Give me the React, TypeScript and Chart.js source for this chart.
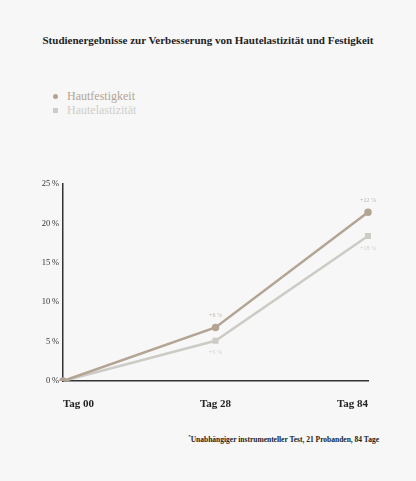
import React, { useEffect, useRef } from 'react';
import { Chart, registerables } from 'chart.js';

Chart.register(...registerables);

// chart values
const days = ['Tag 00', 'Tag 28', 'Tag 84'];
const festigkeit = [0, 6.8, 21.4];
const elastizitaet = [0, 5.1, 18.4];
const festigkeitLabels = ['', '+6 %', '+22 %'];
const elastizitaetLabels = ['', '+5 %', '+18 %'];
const yTicks = [0, 5, 10, 15, 20, 25];

const FEST_COLOR = '#b3a494';
const ELAST_COLOR = '#cdcbc5';
const SERIF = '"Liberation Serif", "DejaVu Serif", serif';

// small value labels above / below the points
const pointLabels = {
  id: 'pointLabels',
  afterDatasetsDraw(chart: Chart) {
    const ctx = chart.ctx;
    ctx.save();
    ctx.font = `6px ${SERIF}`;
    ctx.textAlign = 'center';
    ctx.textBaseline = 'middle';
    chart.data.datasets.forEach((ds, i) => {
      const labels = i === 0 ? festigkeitLabels : elastizitaetLabels;
      const meta = chart.getDatasetMeta(i);
      meta.data.forEach((pt, j) => {
        if (!labels[j]) return;
        ctx.fillStyle = i === 0 ? '#c2b6a9' : '#d2d0cb';
        ctx.fillText(labels[j], pt.x, i === 0 ? pt.y - 12 : pt.y + 12);
      });
    });
    ctx.restore();
  },
};

const App: React.FC = () => {
  const canvasRef = useRef<HTMLCanvasElement>(null);
  const chartRef = useRef<Chart | null>(null);

  useEffect(() => {
    if (!canvasRef.current) return;
    if (chartRef.current) chartRef.current.destroy();

    chartRef.current = new Chart(canvasRef.current, {
      type: 'line',
      data: {
        labels: days,
        datasets: [
          {
            label: 'Hautfestigkeit',
            data: festigkeit,
            borderColor: FEST_COLOR,
            backgroundColor: FEST_COLOR,
            borderWidth: 2.5,
            pointStyle: 'circle',
            pointRadius: 2.5,
            tension: 0,
          },
          {
            label: 'Hautelastizität',
            data: elastizitaet,
            borderColor: ELAST_COLOR,
            backgroundColor: ELAST_COLOR,
            borderWidth: 2.5,
            pointStyle: 'rect',
            pointRadius: 2.5,
            tension: 0,
          },
        ],
      },
      options: {
        animation: false,
        responsive: true,
        maintainAspectRatio: false,
        layout: { padding: { top: 14, right: 48, left: 0, bottom: 0 } },
        plugins: {
          legend: { display: false },
          tooltip: { enabled: false },
        },
        scales: {
          x: {
            offset: false,
            grid: { display: false, drawTicks: false },
            border: { display: true, color: '#333333', width: 1.5 },
            afterFit: (scale) => {
              scale.height = 39;
            },
            ticks: {
              align: 'inner',
              padding: 17,
              color: '#222222',
              font: { family: SERIF, size: 11, weight: 'bold' },
            },
          },
          y: {
            min: 0,
            max: 25,
            grid: { display: false, drawTicks: false },
            border: { display: true, color: '#333333', width: 1.5 },
            afterFit: (scale) => {
              scale.width = 63;
            },
            afterBuildTicks: (scale) => {
              scale.ticks = yTicks.map((v) => ({ value: v }));
            },
            ticks: {
              padding: 4,
              color: '#333333',
              font: { family: SERIF, size: 8.5 },
              callback: (v) => `${v}\u2009%`,
            },
          },
        },
      },
      plugins: [pointLabels],
    });

    return () => {
      if (chartRef.current) {
        chartRef.current.destroy();
        chartRef.current = null;
      }
    };
  }, []);

  return (
    <div
      style={{
        position: 'fixed',
        left: 0,
        top: 0,
        width: 416,
        height: 481,
        background: '#f7f7f7',
        fontFamily: SERIF,
      }}
    >
      <div
        style={{
          position: 'absolute',
          top: 34,
          left: 0,
          width: 416,
          textAlign: 'center',
          fontSize: 11,
          fontWeight: 'bold',
          color: '#1e1e1e',
        }}
      >
        Studienergebnisse zur Verbesserung von Hautelastizität und Festigkeit
      </div>

      <div style={{ position: 'absolute', top: 89, left: 53, fontSize: 12, lineHeight: '14px' }}>
        <div style={{ display: 'flex', alignItems: 'center', color: FEST_COLOR }}>
          <span style={{ width: 5, height: 5, borderRadius: 3, background: FEST_COLOR, marginRight: 9 }} />
          Hautfestigkeit
        </div>
        <div style={{ display: 'flex', alignItems: 'center', color: '#d0cec9' }}>
          <span style={{ width: 5, height: 5, background: ELAST_COLOR, marginRight: 9 }} />
          Hautelastizität
        </div>
      </div>

      <div style={{ position: 'absolute', top: 170, left: 0, width: 416, height: 250 }}>
        <canvas ref={canvasRef} />
      </div>

      <div
        style={{
          position: 'absolute',
          top: 434,
          right: 37,
          fontSize: 7.5,
          fontWeight: 'bold',
          color: '#222222',
        }}
      >
        <sup style={{ fontSize: 5 }}>*</sup>Unabhängiger instrumenteller Test, 21 Probanden, 84 Tage
      </div>
    </div>
  );
};

export default App;
